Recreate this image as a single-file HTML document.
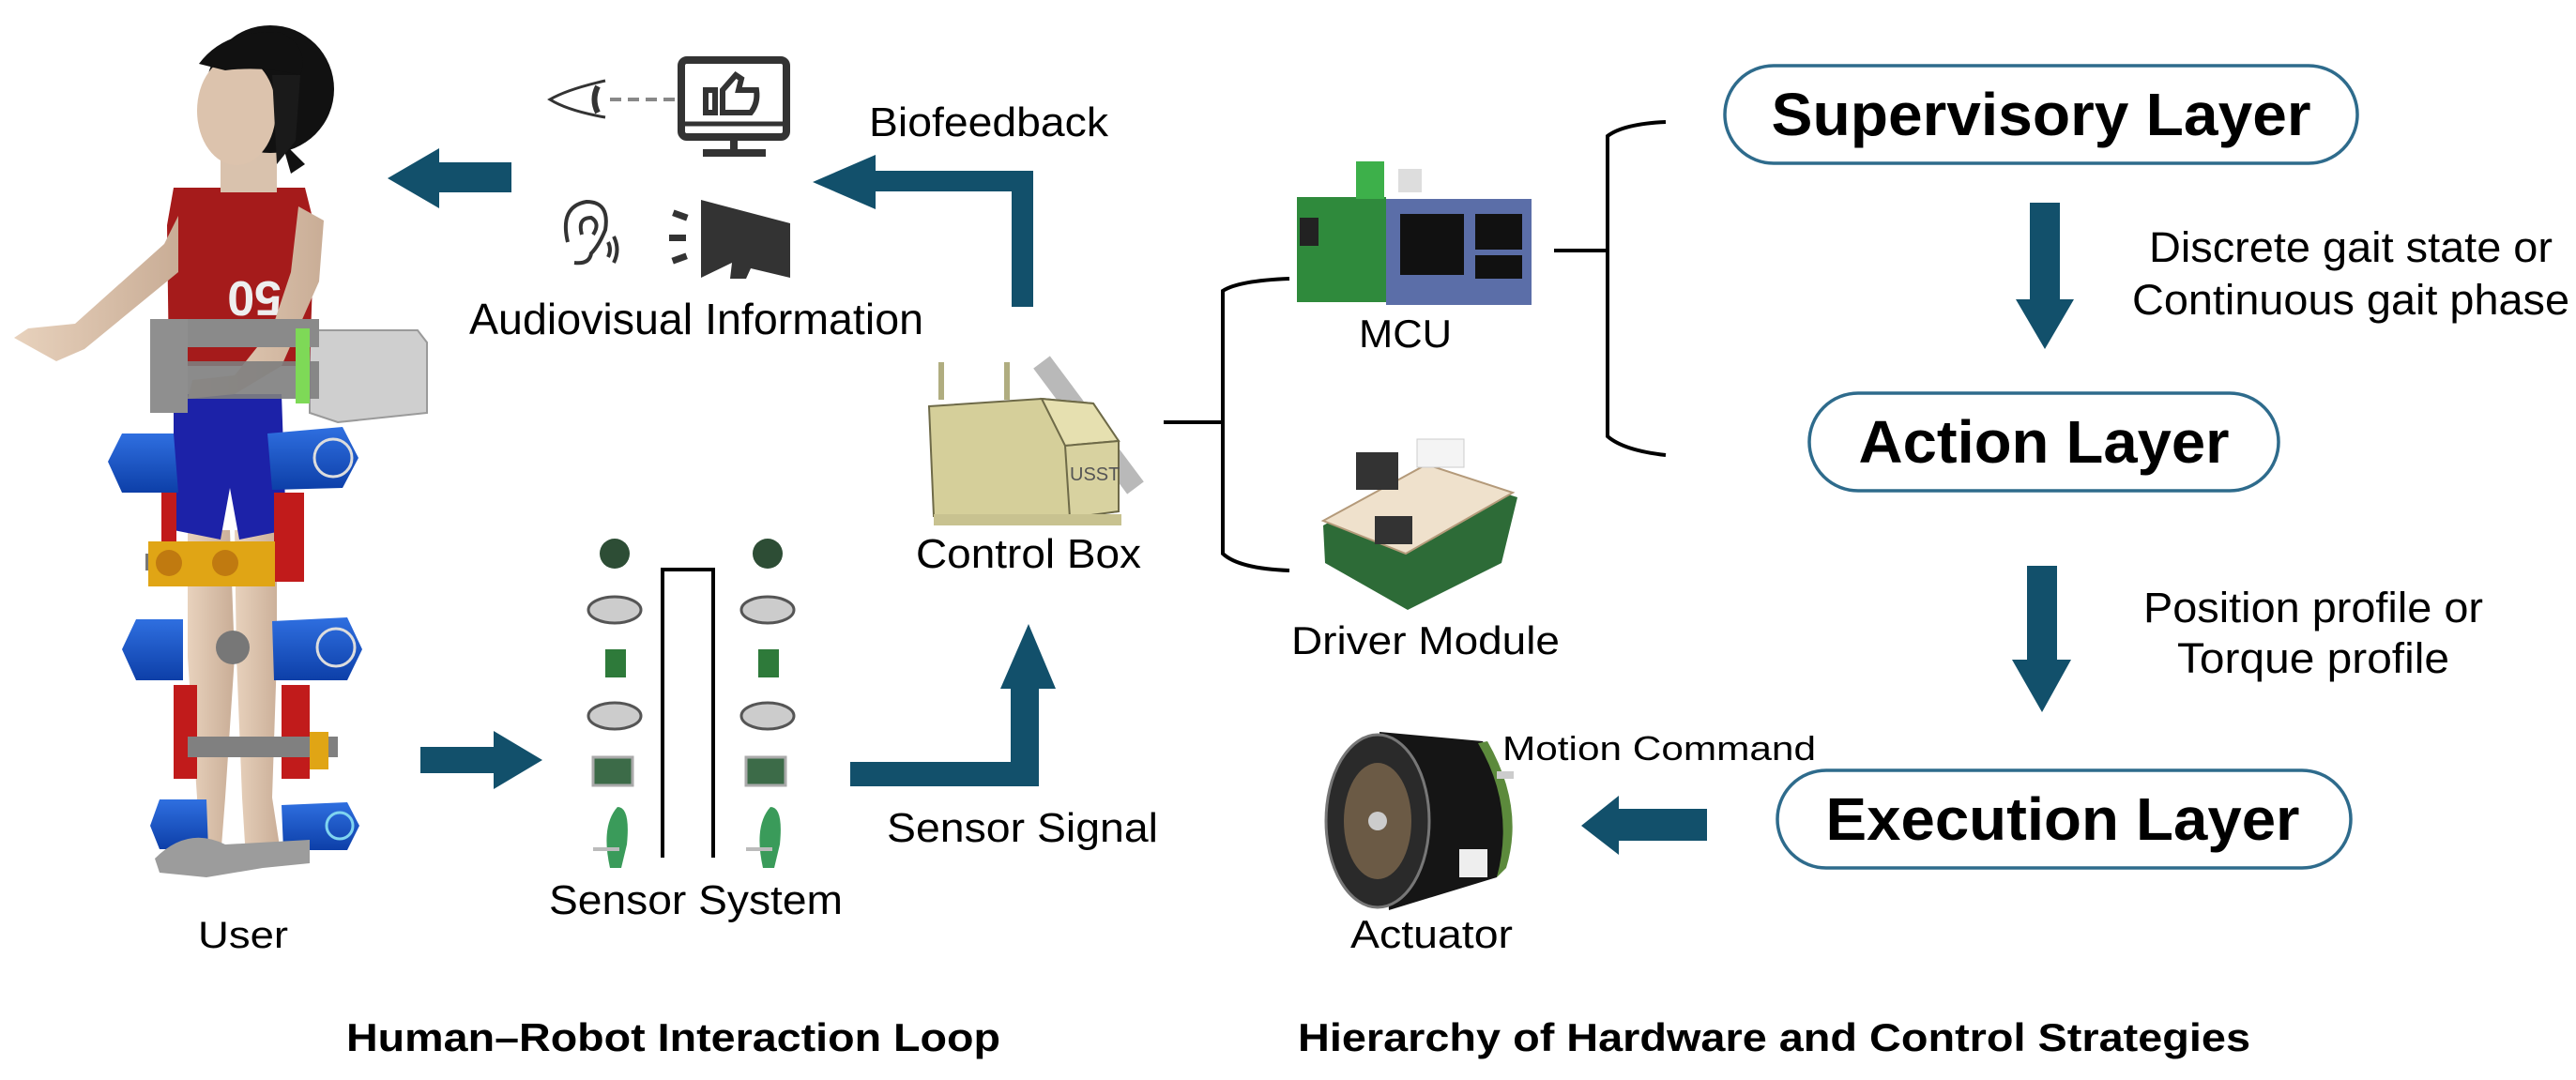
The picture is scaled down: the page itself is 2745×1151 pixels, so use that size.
<!DOCTYPE html>
<html><head><meta charset="utf-8"><style>
html,body{margin:0;padding:0;background:#fff;}
svg{display:block;}
text{font-family:"Liberation Sans",Arial,sans-serif;fill:#000;}
</style></head><body>
<svg width="2745" height="1151" viewBox="0 0 2745 1151" xmlns="http://www.w3.org/2000/svg">
<defs>
<linearGradient id="skin" x1="0" x2="1"><stop offset="0" stop-color="#e8d2bd"/><stop offset="1" stop-color="#c9ad96"/></linearGradient>
<linearGradient id="blue" x1="0" y1="0" x2="0" y2="1"><stop offset="0" stop-color="#2f6fe0"/><stop offset="1" stop-color="#0d3fa8"/></linearGradient>
</defs>

<!-- ============ PERSON ============ -->
<g>
 <polygon points="330,352 445,352 455,365 455,440 360,450 330,440" fill="#cfcfcf" stroke="#9a9a9a" stroke-width="2"/>
 <path d="M200,565 L245,565 L250,700 L240,850 L235,915 L205,915 L210,850 L200,700 Z" fill="url(#skin)"/>
 <path d="M250,565 L295,565 L295,700 L290,850 L300,915 L262,915 L258,850 L252,700 Z" fill="url(#skin)"/>
 <path d="M185,420 L300,420 L305,565 L255,575 L245,520 L235,575 L185,565 Z" fill="#1c22a8"/>
 <path d="M185,200 L325,200 L335,240 L330,390 L180,390 L178,240 Z" fill="#a51b1b"/>
 <text x="210" y="330" font-size="52" font-weight="bold" style="fill:#eee" transform="rotate(180 255 315)">50</text>
 <!-- neck & head -->
 <rect x="235" y="160" width="60" height="45" fill="#d9c2ad"/>
 <ellipse cx="288" cy="95" rx="68" ry="68" fill="#111"/>
 <path d="M300,150 L325,175 L310,185 Z" fill="#111"/>
 <ellipse cx="252" cy="118" rx="42" ry="58" fill="#dcc3ad"/>
 <path d="M212,68 Q240,30 300,35 Q330,50 320,80 Q280,70 240,75 Z" fill="#111"/>
 <path d="M290,80 L320,80 L315,150 L295,175 Z" fill="#1a1a1a"/>
 <!-- arms -->
 <path d="M190,230 L175,260 L80,345 L30,350 L15,360 L60,385 L90,372 L190,290 Z" fill="url(#skin)"/>
 <path d="M318,220 L345,235 L340,300 L300,390 L250,420 L200,425 L205,405 L250,400 L290,350 L310,290 Z" fill="url(#skin)"/>
 <rect x="165" y="340" width="175" height="30" fill="#8a8a8a"/>
 <rect x="160" y="340" width="40" height="100" fill="#8f8f8f"/>
 <rect x="200" y="385" width="140" height="40" fill="#7e7e7e" opacity="0.9"/>
 <rect x="315" y="350" width="15" height="80" fill="#7ed957"/>
 <polygon points="115,492 130,462 185,462 190,525 130,525" fill="url(#blue)"/>
 <polygon points="285,462 365,455 382,488 365,520 290,522" fill="url(#blue)"/>
 <circle cx="355" cy="488" r="20" fill="none" stroke="#ddd" stroke-width="3"/>
 <rect x="172" y="525" width="16" height="90" fill="#c11b1b"/>
 <rect x="292" y="525" width="32" height="95" fill="#c11b1b"/>
 <rect x="155" y="590" width="20" height="18" fill="#777"/>
 <rect x="158" y="577" width="135" height="48" fill="#e0a515"/>
 <circle cx="180" cy="600" r="14" fill="#c07a10"/><circle cx="240" cy="600" r="14" fill="#c07a10"/>
 <polygon points="130,692 145,660 195,660 195,725 145,725" fill="url(#blue)"/>
 <polygon points="290,662 370,658 386,692 370,725 292,725" fill="url(#blue)"/>
 <circle cx="358" cy="690" r="20" fill="none" stroke="#ddd" stroke-width="3"/>
 <circle cx="248" cy="690" r="18" fill="#777"/>
 <rect x="185" y="730" width="25" height="100" fill="#c11b1b"/>
 <rect x="300" y="730" width="30" height="100" fill="#c11b1b"/>
 <rect x="200" y="785" width="160" height="22" fill="#808080"/>
 <rect x="330" y="780" width="20" height="40" fill="#e0a515"/>
 <polygon points="160,880 170,852 220,852 222,905 170,905" fill="url(#blue)"/>
 <polygon points="300,858 370,855 383,880 370,906 302,906" fill="url(#blue)"/>
 <circle cx="362" cy="880" r="14" fill="none" stroke="#7fd4f0" stroke-width="3"/>
 <path d="M165,915 Q200,880 240,900 L330,895 L330,920 L280,925 L220,935 L170,930 Z" fill="#9c9c9c"/>
</g>

<text x="211" y="1010" font-size="40" textLength="96" lengthAdjust="spacingAndGlyphs">User</text>

<g fill="#12506b">
 <polygon points="413,190 468,158 468,173 545,173 545,205 468,205 468,222"/>
 <polygon points="866,194 933,165 933,182 1101,182 1101,327 1078,327 1078,204 933,204 933,223"/>
 <polygon points="448,796 526,796 526,779 578,810 526,841 526,824 448,824"/>
 <polygon points="906,812 1077,812 1077,734 1066,734 1096,665 1125,734 1107,734 1107,838 906,838"/>
</g>

<g fill="none" stroke="#333" stroke-width="3">
 <path d="M645,86 Q605,95 586,106 Q605,118 645,125"/>
 <path d="M637,92 Q630,106 637,120" stroke-width="6"/>
 <line x1="650" y1="106" x2="722" y2="106" stroke="#888" stroke-width="4" stroke-dasharray="12,7"/>
</g>
<g fill="none" stroke="#333" stroke-width="8">
 <rect x="726" y="64" width="112" height="82" rx="6"/>
 <line x1="726" y1="132" x2="838" y2="132" stroke-width="5"/>
 <line x1="782" y1="146" x2="782" y2="160"/>
 <line x1="749" y1="163" x2="816" y2="163"/>
 <rect x="752" y="96" width="10" height="24" stroke-width="6"/>
 <path d="M770,120 L770,96 L784,80 L790,84 L787,96 L806,96 Q808,110 800,120 Z" stroke-width="6"/>
</g>
<g fill="none" stroke="#333" stroke-width="4">
 <path d="M605,258 Q596,220 625,215 Q650,215 645,245 Q638,262 630,270 Q628,282 612,280"/>
 <path d="M620,250 Q615,232 630,232 Q640,238 632,250"/>
 <path d="M648,258 Q652,266 648,274"/><path d="M654,252 Q661,266 654,280"/>
</g>
<g fill="#333">
 <polygon points="747,213 842,238 842,296 800,286 795,297 778,297 780,280 747,296"/>
 <rect x="717" y="226" width="16" height="7" transform="rotate(20 725 229)"/>
 <rect x="713" y="250" width="18" height="7"/>
 <rect x="716" y="272" width="16" height="7" transform="rotate(-20 724 275)"/>
</g>

<text x="926" y="145" font-size="44" textLength="255" lengthAdjust="spacingAndGlyphs">Biofeedback</text>
<text x="500" y="356" font-size="46" textLength="484" lengthAdjust="spacingAndGlyphs">Audiovisual Information</text>

<g>
 <rect x="988" y="386" width="222" height="178" fill="#fff"/>
 <line x1="1110" y1="386" x2="1210" y2="520" stroke="#b9b9b9" stroke-width="22"/>
 <rect x="1000" y="386" width="6" height="40" fill="#b0ad80"/>
 <rect x="1070" y="386" width="6" height="40" fill="#b0ad80"/>
 <polygon points="990,433 1110,425 1165,430 1192,470 1192,545 1100,555 995,550" fill="#d5cf9a" stroke="#6e6a48" stroke-width="2"/>
 <polygon points="1110,425 1165,430 1192,470 1135,475" fill="#e6e0b0" stroke="#6e6a48" stroke-width="2"/>
 <polygon points="1135,475 1192,470 1192,545 1140,552" fill="#d8d2a0" stroke="#6e6a48" stroke-width="2"/>
 <text x="1140" y="512" font-size="20" font-family="Liberation Serif" style="fill:#555">USST</text>
 <rect x="995" y="548" width="200" height="12" fill="#c8c290"/>
</g>
<text x="976" y="605" font-size="44" textLength="240" lengthAdjust="spacingAndGlyphs">Control Box</text>

<g>
 <g id="col">
  <circle cx="655" cy="590" r="16" fill="#2d4d35"/>
  <ellipse cx="655" cy="650" rx="28" ry="14" fill="#ccc" stroke="#555" stroke-width="3"/>
  <rect x="645" y="692" width="22" height="30" fill="#2e7a3a"/>
  <ellipse cx="655" cy="763" rx="28" ry="14" fill="#ccc" stroke="#555" stroke-width="3"/>
  <rect x="632" y="807" width="42" height="30" fill="#3c6b48" stroke="#aaa" stroke-width="3"/>
  <path d="M658,860 Q672,860 668,900 L662,925 L650,925 Q640,880 658,860 Z" fill="#3a9b5a"/>
  <line x1="632" y1="905" x2="660" y2="905" stroke="#bbb" stroke-width="4"/>
 </g>
 <use href="#col" transform="translate(163,0)"/>
 <polyline points="706,914 706,607 760,607 760,914" fill="none" stroke="#000" stroke-width="4"/>
</g>
<text x="585" y="974" font-size="44" textLength="313" lengthAdjust="spacingAndGlyphs">Sensor System</text>
<text x="945" y="897" font-size="44" textLength="289" lengthAdjust="spacingAndGlyphs">Sensor Signal</text>

<g fill="none" stroke="#000" stroke-width="4">
 <line x1="1240" y1="450" x2="1303" y2="450"/>
 <path d="M1374,297 Q1320,299 1303,310 L1303,590 Q1320,606 1374,608"/>
 <line x1="1656" y1="267" x2="1713" y2="267"/>
 <path d="M1775,130 Q1730,132 1713,145 L1713,465 Q1730,480 1775,485"/>
</g>
<g>
 <rect x="1382" y="210" width="95" height="112" fill="#2f8a3c"/>
 <rect x="1445" y="172" width="30" height="40" fill="#3db04a"/>
 <rect x="1490" y="180" width="25" height="25" fill="#ddd"/>
 <rect x="1477" y="212" width="155" height="113" fill="#5b6ea8"/>
 <rect x="1492" y="228" width="68" height="65" fill="#111"/>
 <rect x="1572" y="228" width="50" height="38" fill="#111"/>
 <rect x="1572" y="272" width="50" height="25" fill="#111"/>
 <rect x="1385" y="232" width="20" height="30" fill="#222"/>
</g>
<text x="1448" y="370" font-size="42" textLength="99" lengthAdjust="spacingAndGlyphs">MCU</text>
<g>
 <polygon points="1410,560 1520,500 1617,530 1600,600 1500,650 1412,600" fill="#2d6b37"/>
 <polygon points="1410,555 1520,495 1612,525 1498,590" fill="#efe1cc" stroke="#b49a7a" stroke-width="2"/>
 <rect x="1445" y="482" width="45" height="40" fill="#333"/>
 <rect x="1510" y="468" width="50" height="30" fill="#f4f4f4" stroke="#ccc"/>
 <rect x="1465" y="550" width="40" height="30" fill="#333"/>
</g>
<text x="1376" y="697" font-size="42" textLength="286" lengthAdjust="spacingAndGlyphs">Driver Module</text>
<g>
 <path d="M1470,780 L1580,790 Q1620,860 1595,935 L1480,970 Z" fill="#151515"/>
 <path d="M1575,792 Q1615,860 1595,935 L1605,925 Q1625,860 1585,790 Z" fill="#5c8a3c"/>
 <ellipse cx="1468" cy="875" rx="55" ry="92" fill="#2a2a2a" stroke="#777" stroke-width="3"/>
 <ellipse cx="1468" cy="875" rx="36" ry="62" fill="#6b5a45"/>
 <circle cx="1468" cy="875" r="10" fill="#ccc"/>
 <rect x="1595" y="822" width="18" height="8" fill="#ccc"/>
 <rect x="1555" y="905" width="30" height="30" fill="#eee"/>
</g>
<text x="1439" y="1010" font-size="42" textLength="173" lengthAdjust="spacingAndGlyphs">Actuator</text>
<text x="1601" y="810" font-size="36" textLength="334" lengthAdjust="spacingAndGlyphs">Motion Command</text>

<g fill="#fff" stroke="#2e6b8c" stroke-width="3.5">
 <rect x="1838" y="70" width="674" height="104" rx="52"/>
 <rect x="1928" y="419" width="500" height="104" rx="52"/>
 <rect x="1894" y="821" width="611" height="104" rx="52"/>
</g>
<text x="2175" y="144" font-size="64" font-weight="bold" text-anchor="middle" textLength="575" lengthAdjust="spacingAndGlyphs">Supervisory Layer</text>
<text x="2178" y="493" font-size="64" font-weight="bold" text-anchor="middle" textLength="395" lengthAdjust="spacingAndGlyphs">Action Layer</text>
<text x="2198" y="895" font-size="64" font-weight="bold" text-anchor="middle" textLength="505" lengthAdjust="spacingAndGlyphs">Execution Layer</text>

<g fill="#12506b">
 <polygon points="2163,216 2195,216 2195,319 2210,319 2179,372 2148,319 2163,319"/>
 <polygon points="2160,603 2192,603 2192,703 2207,703 2176,759 2144,703 2160,703"/>
 <polygon points="1685,880 1725,848 1725,862 1819,862 1819,896 1725,896 1725,911"/>
</g>

<text x="2290" y="279" font-size="45" textLength="430" lengthAdjust="spacingAndGlyphs">Discrete gait state or</text>
<text x="2272" y="335" font-size="45" textLength="466" lengthAdjust="spacingAndGlyphs">Continuous gait phase</text>
<text x="2284" y="663" font-size="45" textLength="362" lengthAdjust="spacingAndGlyphs">Position profile or</text>
<text x="2320" y="717" font-size="45" textLength="290" lengthAdjust="spacingAndGlyphs">Torque profile</text>

<text x="369" y="1120" font-size="42" font-weight="bold" textLength="697" lengthAdjust="spacingAndGlyphs">Human–Robot Interaction Loop</text>
<text x="1383" y="1120" font-size="42" font-weight="bold" textLength="1015" lengthAdjust="spacingAndGlyphs">Hierarchy of Hardware and Control Strategies</text>
</svg>
</body></html>
